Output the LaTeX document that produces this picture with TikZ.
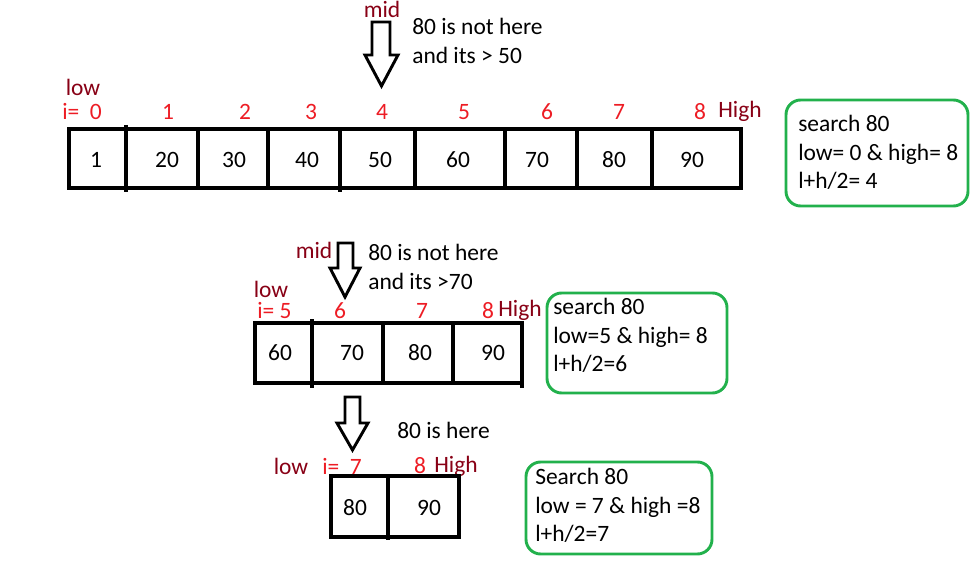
\documentclass[tikz,border=0pt]{standalone}
\usepackage{fontspec}
\setmainfont{Carlito}
\usepackage{xcolor}
\usepackage{tikz}
\definecolor{idxred}{RGB}{237, 28, 36}
\definecolor{lblred}{RGB}{136, 0, 21}
\definecolor{boxgreen}{RGB}{34, 177, 76}

\begin{document}
\begin{tikzpicture}[x=0.75pt,y=-0.75pt,
  every node/.style={inner sep=0pt,font=\fontsize{17.6}{21.4}\selectfont},
  idx/.style={text=idxred},
  lbl/.style={text=lblred},
  cellline/.style={line width=2.4pt},
  infobox/.style={draw=boxgreen,line width=2.2pt,rounded corners=11pt},
  blockarrow/.style={draw=black,line width=2.2pt,fill=white,line join=miter}]
\useasboundingbox (0,0) rectangle (974,563);

% First pass: whole array
\draw[blockarrow] (372,22) -- (390,22) -- (390,55) -- (398,55) -- (381.5,86) -- (365,55) -- (372,55) -- cycle;
\node[lbl] (mid1) at (382,9) {mid};
\node[anchor=north west,align=left] (note1) at (412,18) {80 is not here\\and its > 50};

\node[lbl] (low1) at (83,87) {low};
\node[idx,anchor=west] (i0) at (62,112) {i=~~0};
\node[idx] (i1) at (168,112) {1};
\node[idx] (i2) at (245,112) {2};
\node[idx] (i3) at (311,112) {3};
\node[idx] (i4) at (382,112) {4};
\node[idx] (i5) at (464,112) {5};
\node[idx] (i6) at (547,112) {6};
\node[idx] (i7) at (619,112) {7};
\node[idx] (i8) at (700,112) {8};
\node[lbl] (high1) at (740,111) {High};

\draw[cellline] (69,129) rectangle (741,188);
\draw[cellline] (126,125) -- (126,192);
\draw[cellline] (198,129) -- (198,188);
\draw[cellline] (268,129) -- (268,188);
\draw[cellline] (340,129) -- (340,192);
\draw[cellline] (415,129) -- (415,188);
\draw[cellline] (505,129) -- (505,190);
\draw[cellline] (577,129) -- (577,188);
\draw[cellline] (652,129) -- (652,188);

\node (v0) at (96,160) {1};
\node (v1) at (167,160) {20};
\node (v2) at (234,160) {30};
\node (v3) at (307,160) {40};
\node (v4) at (380,160) {50};
\node (v5) at (458,160) {60};
\node (v6) at (537,160) {70};
\node (v7) at (614,160) {80};
\node (v8) at (692,160) {90};

\draw[infobox] (786,100) rectangle (968,206);
\node[anchor=north west,align=left] (box1) at (798,115) {search 80\\low= 0 \& high= 8\\l+h/2= 4};

% Second pass: right half
\draw[blockarrow] (338,243) -- (353,243) -- (353,268) -- (360,268) -- (345,297) -- (330,268) -- (338,268) -- cycle;
\node[lbl] (mid2) at (314,250) {mid};
\node[anchor=north west,align=left] (note2) at (368,244) {80 is not here\\and its >70};

\node[lbl] (low2) at (271,289) {low};
\node[idx,anchor=west] (j5) at (257,311) {i= 5};
\node[idx] (j6) at (340,311) {6};
\node[idx] (j7) at (422,311) {7};
\node[idx] (j8) at (488,311) {8};
\node[lbl] (high2) at (520,310) {High};

\draw[cellline] (255,323) rectangle (522,383);
\draw[cellline] (312,319) -- (312,388);
\draw[cellline] (383,323) -- (383,383);
\draw[cellline] (453,323) -- (453,383);
\draw[cellline] (522,370) -- (522,388);

\node (w5) at (280,353) {60};
\node (w6) at (352,353) {70};
\node (w7) at (420,353) {80};
\node (w8) at (493,353) {90};

\draw[infobox] (547,293) rectangle (727,393);
\node[anchor=north west,align=left] (box2) at (553,298) {search 80\\low=5 \& high= 8\\l+h/2=6};

% Third pass: found
\draw[blockarrow] (345,397) -- (360,397) -- (360,423) -- (368,423) -- (352.5,450) -- (337,423) -- (345,423) -- cycle;
\node[anchor=west] (note3) at (397,430) {80 is here};

\node[lbl] (low3) at (291,466) {low};
\node[idx,anchor=west] (k7) at (322,466) {i=~~7};
\node[idx] (k8) at (420,466) {8};
\node[lbl] (high3) at (456,466) {High};

\draw[cellline] (331,476) rectangle (459,537);
\draw[cellline] (388,474) -- (388,540);

\node (x7) at (355,508) {80};
\node (x8) at (429,508) {90};

\draw[infobox] (526,462) rectangle (712,554);
\node[anchor=north west,align=left] (box3) at (535,468) {Search 80\\low = 7 \& high =8\\l+h/2=7};
\end{tikzpicture}
\end{document}
